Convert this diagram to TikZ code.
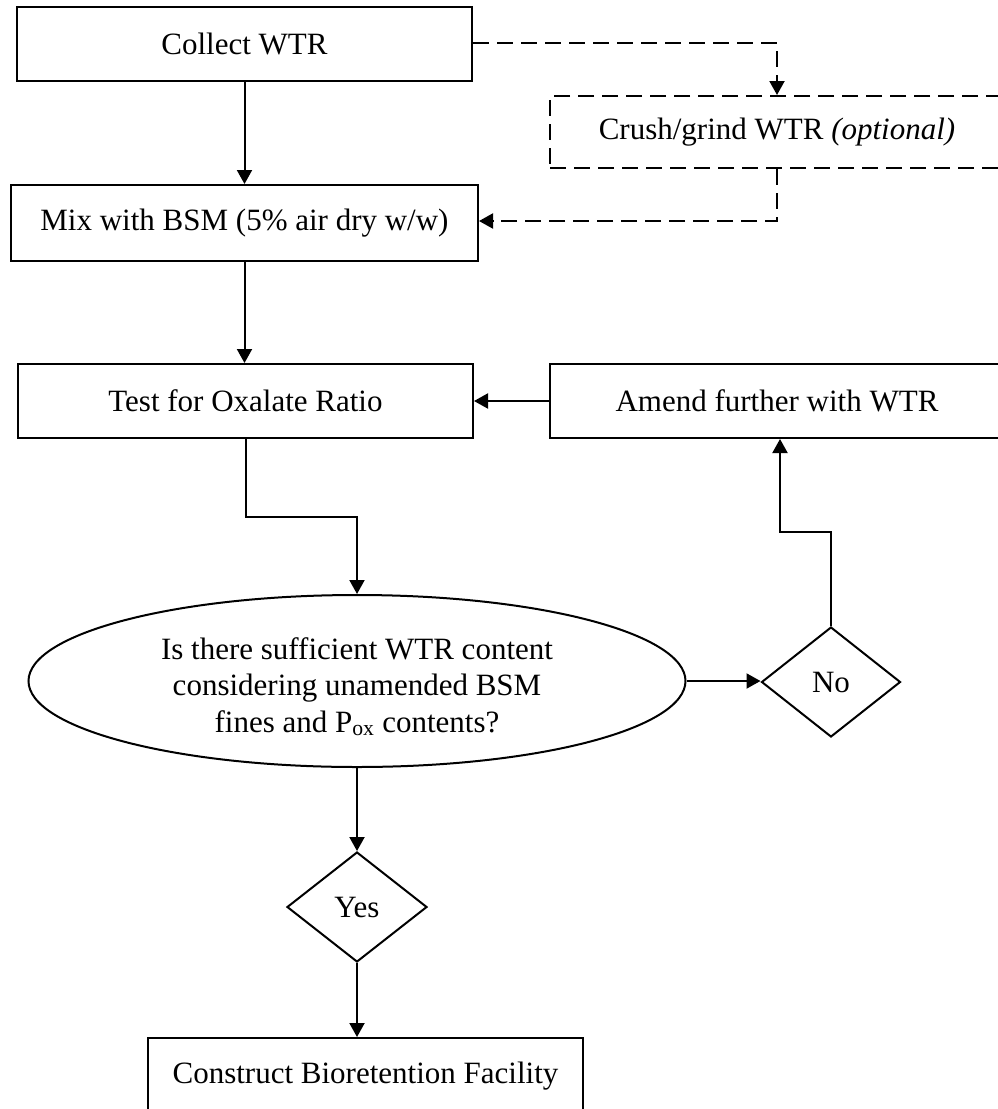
\documentclass[tikz,border=0pt]{standalone}
\usepackage{fontspec}
\setmainfont{Liberation Serif}
\usetikzlibrary{arrows.meta,shapes.geometric}
\tikzset{
  tip/.style={-{Triangle[width=15pt,length=14pt]}},
  line/.style={line width=2pt, tip},
  dline/.style={line width=2pt, dash pattern=on 16pt off 8pt, tip},
  box/.style={draw, line width=2pt, rectangle, inner sep=0pt, align=center},
  dbox/.style={box, dash pattern=on 16pt off 8pt},
  oval/.style={draw, line width=2pt, ellipse, inner sep=0pt, align=center},
  dia/.style={draw, line width=2pt, diamond, inner sep=0pt, align=center}
}
\begin{document}
\begin{tikzpicture}[x=1pt,y=-1pt,font=\fontsize{31}{36.5}\selectfont]
\useasboundingbox (0,0) rectangle (998,1109);
\clip (0,0) rectangle (998,1109);
\fill[white] (0,0) rectangle (998,1109);

\node[box, minimum width=455pt, minimum height=74pt] (collect) at (244.5,44) {Collect WTR};
\node[box, minimum width=467pt, minimum height=76pt] (mix) at (244.5,223) {Mix with BSM (5\% air dry w/w)};
\node[dbox, minimum width=454pt, minimum height=72pt] (crush) at (777,132) {Crush/grind WTR \textit{(optional)}};
\node[box, minimum width=455pt, minimum height=74pt] (test) at (245.5,401) {Test for Oxalate Ratio};
\node[box, minimum width=454pt, minimum height=74pt] (amend) at (777,401) {Amend further with WTR};
\node[oval, minimum width=657pt, minimum height=172pt] (q) at (357,681)
  {\rule{0pt}{33pt}Is there sufficient WTR content\\considering unamended BSM\\fines and P\textsubscript{ox} contents?};
\node[dia, minimum width=139pt, minimum height=110pt] (no) at (831,682) {No};
\node[dia, minimum width=140pt, minimum height=110pt] (yes) at (357,907) {Yes};
\node[box, minimum width=435pt, minimum height=76pt] (build) at (365.5,1076) {Construct Bioretention Facility};

\coordinate (c1) at (777,43);
\coordinate (c2) at (777,221);
\coordinate (t1) at (246,517);
\coordinate (t2) at (357,517);
\coordinate (n1) at (831,532);
\coordinate (n2) at (780,532);

\draw[line] (collect.south) -- (collect.south |- mix.north);
\draw[dline] (collect.east |- c1) -- (c1) -- (c1 |- crush.north);
\draw[dline] (c2 |- crush.south) -- (c2) -- (mix.east |- c2);
\draw[line] (mix.south) -- (mix.south |- test.north);
\draw[line] (amend.west) -- (test.east);
\draw[line] (t1 |- test.south) -- (t1) -- (t2) -- (q.north);
\draw[line] (q.east) -- (q.east -| no.west);
\draw[line] (no.north) -- (n1) -- (n2) -- (n2 |- amend.south);
\draw[line] (q.south) -- (yes.north);
\draw[line] (yes.south) -- (yes.south |- build.north);
\end{tikzpicture}
\end{document}
